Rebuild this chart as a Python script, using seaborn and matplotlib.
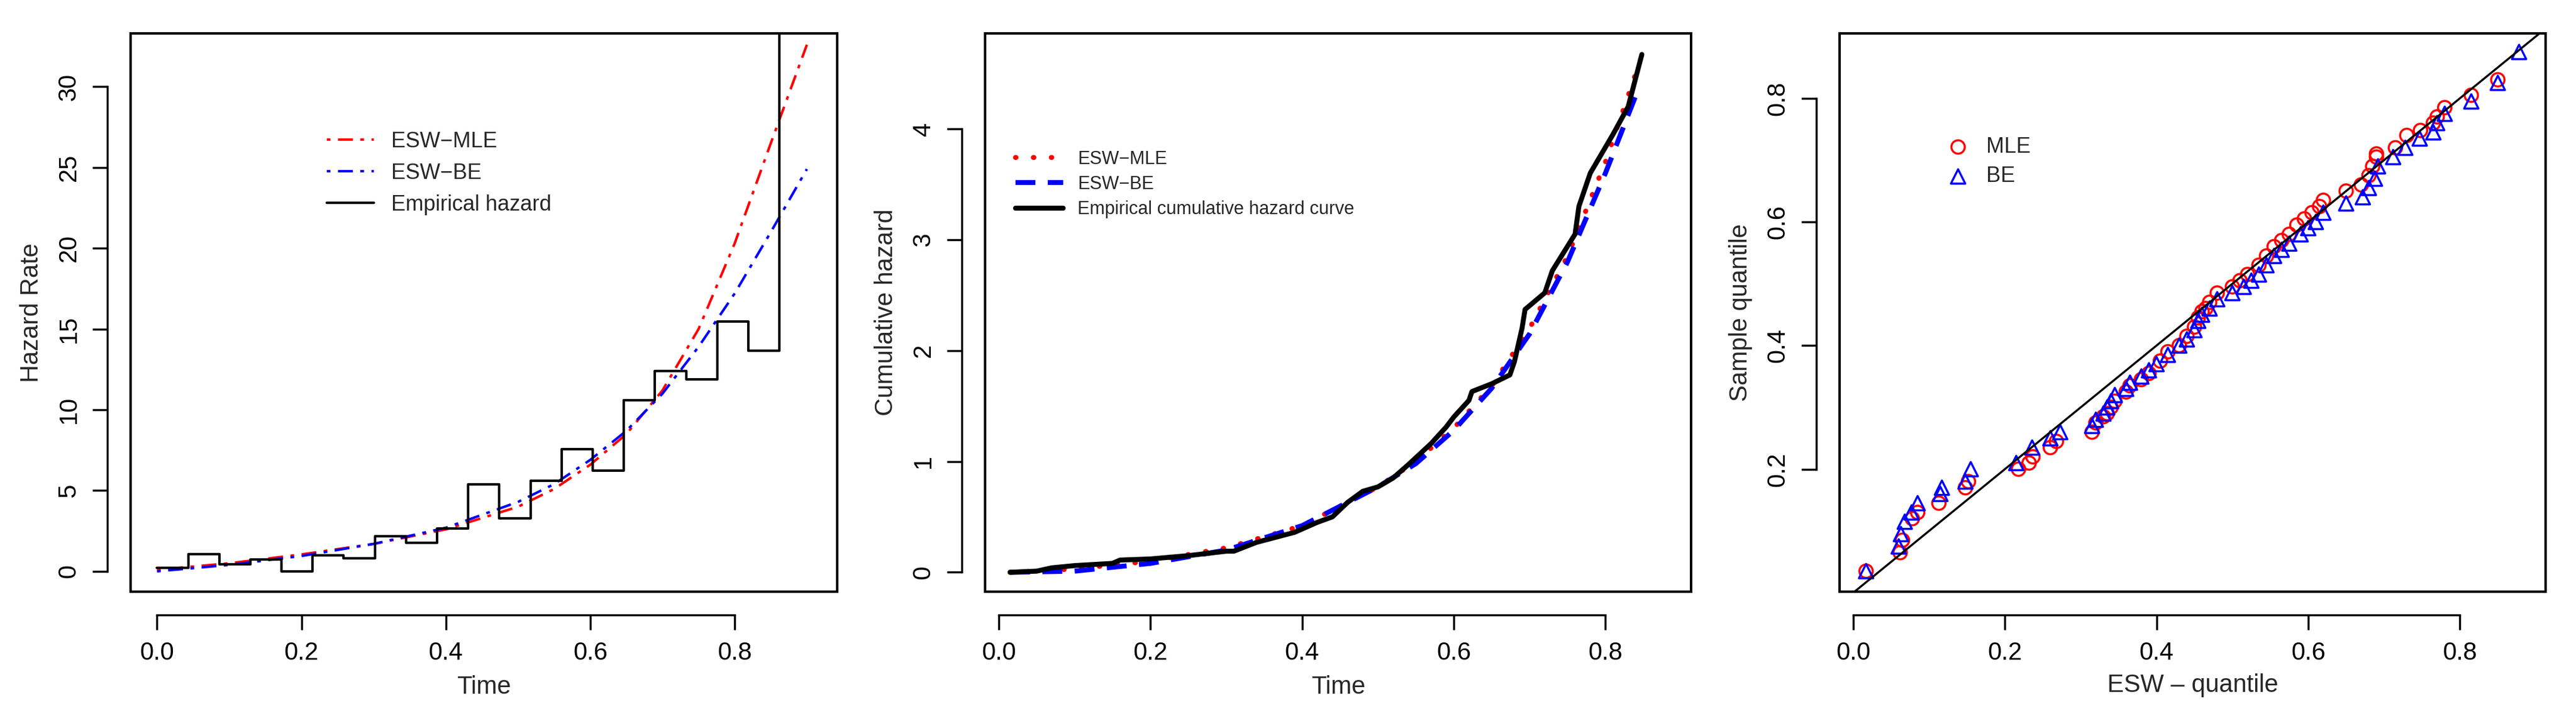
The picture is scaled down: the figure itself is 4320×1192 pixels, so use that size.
import numpy as np
import pandas as pd
import matplotlib
matplotlib.use("Agg")
import matplotlib.pyplot as plt
from matplotlib.patches import Rectangle
import seaborn as sns

sns.set_style("white")
plt.rcParams['font.family'] = ['Liberation Sans', 'DejaVu Sans']

# panel 1: empirical hazard (bin edges + heights), fitted hazard curves
haz_edges = [0.0, 0.0431, 0.0862, 0.1293, 0.1724, 0.2155, 0.2586, 0.3017, 0.3448, 0.3879,
             0.431, 0.4741, 0.5172, 0.5603, 0.6034, 0.6465, 0.6896, 0.7327, 0.7758, 0.8189, 0.862]
haz_values = [0.23, 1.08, 0.45, 0.74, 0.0, 1.0, 0.8, 2.16, 1.76, 2.64,
              5.4, 3.27, 5.6, 7.56, 6.22, 10.6, 12.39, 11.88, 15.48, 13.64, 40.0]
fit_t = [0.0, 0.1, 0.2, 0.3, 0.4, 0.5, 0.55, 0.6, 0.65, 0.7, 0.75, 0.8, 0.85, 0.9]
mle_haz = [0.1, 0.5, 1.05, 1.7, 2.6, 4.0, 5.1, 6.6, 8.5, 11.2, 15.0, 20.3, 26.5, 32.6]
be_haz = [0.0, 0.4, 0.95, 1.7, 2.7, 4.3, 5.4, 6.9, 8.7, 11.0, 13.9, 17.2, 21.0, 24.9]

# panel 2: cumulative hazard
emp_t = [0.015, 0.05, 0.07, 0.1, 0.15, 0.16, 0.2, 0.25, 0.3, 0.31, 0.34, 0.39, 0.42, 0.44,
         0.46, 0.48, 0.5, 0.52, 0.54, 0.57, 0.59, 0.6, 0.62, 0.624, 0.65, 0.674, 0.68,
         0.69, 0.694, 0.72, 0.73, 0.76, 0.765, 0.78, 0.81, 0.83, 0.848]
emp_cum = [0.0, 0.01, 0.04, 0.06, 0.08, 0.11, 0.12, 0.15, 0.19, 0.19, 0.27, 0.36, 0.45, 0.5,
           0.63, 0.73, 0.77, 0.85, 0.97, 1.16, 1.31, 1.4, 1.55, 1.63, 1.7, 1.78, 1.9,
           2.2, 2.37, 2.52, 2.72, 3.05, 3.3, 3.6, 3.95, 4.2, 4.67]
cum_t_mle = [0.015, 0.1, 0.2, 0.3, 0.4, 0.5, 0.55, 0.6, 0.65, 0.7, 0.75, 0.8, 0.85]
mle_cum = [0.0, 0.03, 0.1, 0.22, 0.42, 0.77, 1.0, 1.3, 1.68, 2.2, 2.85, 3.7, 4.7]
cum_t_be = [0.015, 0.1, 0.2, 0.3, 0.4, 0.5, 0.55, 0.6, 0.65, 0.7, 0.75, 0.8, 0.84]
be_cum = [0.0, 0.01, 0.08, 0.2, 0.42, 0.77, 0.98, 1.28, 1.66, 2.15, 2.8, 3.6, 4.3]

# panel 3: QQ points (theoretical, sample)
mle_qx = [0.017, 0.062, 0.065, 0.078, 0.085, 0.113, 0.148, 0.152, 0.218, 0.232, 0.237, 0.26, 0.268,
          0.315, 0.32, 0.33, 0.335, 0.34, 0.345, 0.36, 0.365, 0.38, 0.39, 0.405, 0.415, 0.43,
          0.44, 0.45, 0.455, 0.46, 0.465, 0.47, 0.48, 0.5, 0.51, 0.52, 0.535, 0.545, 0.555,
          0.565, 0.575, 0.585, 0.595, 0.605, 0.615, 0.62, 0.65, 0.67, 0.68, 0.685, 0.69, 0.69,
          0.715, 0.73, 0.748, 0.765, 0.77, 0.78, 0.815, 0.85]
mle_qy = [0.035, 0.065, 0.085, 0.12, 0.13, 0.145, 0.17, 0.18, 0.2, 0.21, 0.22, 0.235, 0.245,
          0.26, 0.275, 0.285, 0.29, 0.3, 0.31, 0.325, 0.335, 0.345, 0.355, 0.375, 0.39, 0.4,
          0.415, 0.43, 0.445, 0.455, 0.46, 0.47, 0.485, 0.495, 0.505, 0.515, 0.53, 0.545, 0.56,
          0.57, 0.58, 0.595, 0.605, 0.615, 0.625, 0.635, 0.65, 0.66, 0.675, 0.69, 0.705, 0.71,
          0.72, 0.74, 0.748, 0.76, 0.77, 0.785, 0.805, 0.83]
be_qx = [0.017, 0.06, 0.063, 0.068, 0.077, 0.085, 0.115, 0.117, 0.148, 0.155, 0.215, 0.236, 0.26,
         0.273, 0.315, 0.32, 0.33, 0.335, 0.34, 0.345, 0.36, 0.365, 0.38, 0.39, 0.4, 0.415, 0.43,
         0.44, 0.45, 0.455, 0.46, 0.47, 0.48, 0.5, 0.515, 0.525, 0.535, 0.545, 0.555, 0.565,
         0.575, 0.59, 0.6, 0.61, 0.62, 0.65, 0.672, 0.68, 0.688, 0.692, 0.712, 0.728, 0.747,
         0.765, 0.77, 0.78, 0.815, 0.85, 0.878]
be_qy = [0.035, 0.075, 0.095, 0.115, 0.13, 0.145, 0.16, 0.17, 0.18, 0.2, 0.21, 0.235, 0.25,
         0.26, 0.27, 0.28, 0.29, 0.3, 0.31, 0.32, 0.33, 0.34, 0.35, 0.36, 0.37, 0.385, 0.4,
         0.41, 0.425, 0.44, 0.45, 0.46, 0.475, 0.485, 0.495, 0.505, 0.515, 0.53, 0.545, 0.555,
         0.565, 0.58, 0.59, 0.6, 0.615, 0.63, 0.64, 0.655, 0.67, 0.69, 0.705, 0.72, 0.735,
         0.745, 0.76, 0.775, 0.795, 0.825, 0.875]

FS = 30
fig = plt.figure(figsize=(43.2, 11.92), dpi=100)
axes = [fig.add_axes([0.0507, 0.168, 0.2743, 0.785]),
        fig.add_axes([0.3824, 0.168, 0.2741, 0.785]),
        fig.add_axes([0.7141, 0.168, 0.2741, 0.785])]


def r_style(ax, xticks, yticks, xlim, ylim):
    # R base-graphics look: box plus detached axis lines with outward ticks
    ax.set_xlim(xlim)
    ax.set_ylim(ylim)
    ax.set_xticks(xticks)
    ax.set_yticks(yticks)
    for side in ['top', 'right']:
        ax.spines[side].set_visible(False)
    ax.spines['bottom'].set_position(('outward', 28))
    ax.spines['left'].set_position(('outward', 28))
    ax.spines['bottom'].set_bounds(xticks[0], xticks[-1])
    ax.spines['left'].set_bounds(yticks[0], yticks[-1])
    for side in ['bottom', 'left']:
        ax.spines[side].set_linewidth(2.5)
        ax.spines[side].set_color('black')
    ax.add_patch(Rectangle((0, 0), 1, 1, transform=ax.transAxes, fill=False,
                           lw=3, ec='black', clip_on=False, zorder=10))
    ax.tick_params(direction='out', length=18, width=2.5, labelsize=FS, pad=14,
                   bottom=True, left=True, colors='black')
    for lab in ax.get_yticklabels():
        lab.set_rotation(90)
        lab.set_va('center')


# panel 1
ax = axes[0]
sns.lineplot(x=fit_t, y=mle_haz, ax=ax, color='red', lw=3, label='ESW\u2212MLE')
sns.lineplot(x=fit_t, y=be_haz, ax=ax, color='blue', lw=3, label='ESW\u2212BE')
ax.lines[0].set_dashes([1.5, 3, 6, 3])
ax.lines[1].set_dashes([1.5, 3, 6, 3])
sns.lineplot(x=haz_edges, y=haz_values, ax=ax, color='black', lw=3,
             drawstyle='steps-post', label='Empirical hazard')
r_style(ax, [0.0, 0.2, 0.4, 0.6, 0.8], [0, 5, 10, 15, 20, 25, 30], (-0.0366, 0.942), (-1.25, 33.3))
ax.set_xticklabels(['0.0', '0.2', '0.4', '0.6', '0.8'])
ax.set_xlabel('Time', fontsize=FS, labelpad=12)
ax.set_ylabel('Hazard Rate', fontsize=FS, labelpad=16)
ax.legend(loc='upper left', bbox_to_anchor=(0.25, 0.86), frameon=False, fontsize=26,
          handlelength=2.2, labelspacing=0.5)

# panel 2
ax = axes[1]
sns.lineplot(x=cum_t_mle, y=mle_cum, ax=ax, color='red', lw=6, label='ESW\u2212MLE')
ax.lines[0].set_dashes([0.1, 3.5])
ax.lines[0].set_dash_capstyle('round')
sns.lineplot(x=cum_t_be, y=be_cum, ax=ax, color='blue', lw=6, label='ESW\u2212BE')
ax.lines[1].set_dashes([4, 2.5])
sns.lineplot(x=emp_t, y=emp_cum, ax=ax, color='black', lw=6,
             label='Empirical cumulative hazard curve')
r_style(ax, [0.0, 0.2, 0.4, 0.6, 0.8], [0, 1, 2, 3, 4], (-0.018, 0.913), (-0.174, 4.86))
ax.set_xticklabels(['0.0', '0.2', '0.4', '0.6', '0.8'])
ax.set_xlabel('Time', fontsize=FS, labelpad=12)
ax.set_ylabel('Cumulative hazard', fontsize=FS, labelpad=16)
leg = ax.legend(loc='upper left', bbox_to_anchor=(0.02, 0.82), frameon=False, fontsize=22,
                handlelength=2.6, labelspacing=0.4)
leg.get_lines()[0].set_dash_capstyle('round')

# panel 3
ax = axes[2]
sns.scatterplot(x=mle_qx, y=mle_qy, ax=ax, marker='o', s=260, facecolors='none',
                edgecolor='red', linewidth=2.5, label='MLE')
sns.scatterplot(x=be_qx, y=be_qy, ax=ax, marker='^', s=300, facecolors='none',
                edgecolor='blue', linewidth=2.5, label='BE')
ax.axline((0, 0), slope=1, color='black', lw=2.5)
r_style(ax, [0.0, 0.2, 0.4, 0.6, 0.8], [0.2, 0.4, 0.6, 0.8], (-0.018, 0.913), (0.002, 0.905))
ax.set_xticklabels(['0.0', '0.2', '0.4', '0.6', '0.8'])
ax.set_xlabel('ESW \u2013 quantile', fontsize=FS, labelpad=10)
ax.set_ylabel('Sample quantile', fontsize=FS, labelpad=16)
ax.legend(loc='upper left', bbox_to_anchor=(0.11, 0.85), frameon=False, fontsize=26,
          handletextpad=0.3, labelspacing=0.4)

fig.savefig('out.png', dpi=100)
